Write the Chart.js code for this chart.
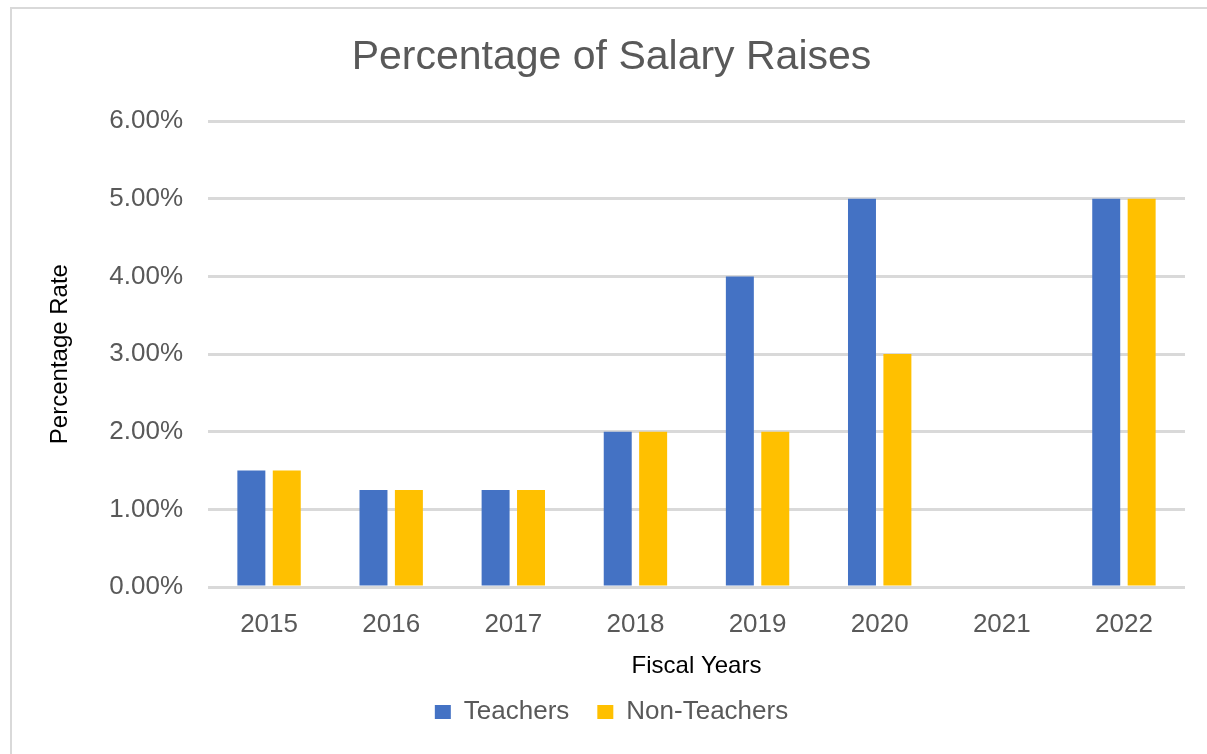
<!DOCTYPE html>
<html>
<head>
<meta charset="utf-8">
<title>Percentage of Salary Raises</title>
<script src="https://cdn.jsdelivr.net/npm/chart.js@4/dist/chart.umd.min.js"></script>
<style>
    html, body {
        margin: 0;
        padding: 0;
        background: #ffffff;
        overflow: hidden;
    }
    .frame {
        position: absolute;
        left: 10px;
        top: 7px;
        right: -200px;
        bottom: -200px;
        border-left: 2px solid #d9d9d9;
        border-top: 2px solid #d9d9d9;
    }
    .chart-wrap {
        position: absolute;
        left: 0;
        top: 0;
        width: 1207px;
        height: 754px;
    }
</style>
</head>
<body>
<div class="frame"></div>
<div class="chart-wrap">
    <canvas id="raisesChart"></canvas>
</div>
<script>
const fiscalYears = ['2015', '2016', '2017', '2018', '2019', '2020', '2021', '2022'];
const teacherRaises = [1.5, 1.25, 1.25, 2, 4, 5, 0, 5];
const nonTeacherRaises = [1.5, 1.25, 1.25, 2, 2, 3, 0, 5];
const yTicks = [0, 1, 2, 3, 4, 5, 6];

document.addEventListener('DOMContentLoaded', function () {
    const canvas = document.getElementById('raisesChart');
    if (typeof Chart === 'undefined') {
        console.warn('Chart.js is not loaded.');
        return;
    }

    const textGray = '#595959';
    const gridGray = '#d9d9d9';
    const sans = "'Liberation Sans', Arial, sans-serif";
    const axisTitleFont = { family: "'Liberation Sans Narrow', 'Liberation Sans', sans-serif", size: 24 };

    new Chart(canvas, {
        type: 'bar',
        data: {
            labels: fiscalYears,
            datasets: [{
                label: 'Teachers',
                data: teacherRaises,
                backgroundColor: '#4472c4',
                borderWidth: 0,
                barPercentage: 0.79,
                categoryPercentage: 0.58
            }, {
                label: 'Non-Teachers',
                data: nonTeacherRaises,
                backgroundColor: '#ffc000',
                borderWidth: 0,
                barPercentage: 0.79,
                categoryPercentage: 0.58
            }]
        },
        options: {
            responsive: true,
            maintainAspectRatio: false,
            animation: false,
            layout: {
                padding: { left: 38, right: 22, top: 8, bottom: 19 }
            },
            scales: {
                x: {
                    grid: { display: false },
                    border: { display: false },
                    ticks: {
                        color: textGray,
                        padding: 14,
                        font: { family: sans, size: 26 }
                    },
                    title: {
                        display: true,
                        text: 'Fiscal Years',
                        color: '#000000',
                        font: axisTitleFont,
                        padding: { top: 0, bottom: -10 }
                    },
                    afterFit: function (scale) {
                        scale.height = 84;
                    }
                },
                y: {
                    min: 0,
                    max: 6,
                    afterBuildTicks: function (scale) {
                        scale.ticks = yTicks.map(function (v) { return { value: v }; });
                    },
                    grid: {
                        color: gridGray,
                        lineWidth: 3,
                        drawTicks: false
                    },
                    border: { display: false },
                    ticks: {
                        color: textGray,
                        padding: 25,
                        font: { family: sans, size: 26 },
                        callback: function (value) {
                            return Number(value).toFixed(2) + '%';
                        }
                    },
                    title: {
                        display: true,
                        text: 'Percentage Rate',
                        color: '#000000',
                        font: axisTitleFont,
                        padding: { top: 8, bottom: 0 }
                    },
                    afterFit: function (scale) {
                        scale.width = 170;
                    }
                }
            },
            plugins: {
                title: {
                    display: true,
                    text: 'Percentage of Salary Raises',
                    color: textGray,
                    font: { family: sans, size: 41, weight: 'normal' },
                    padding: { top: 25, bottom: 39 }
                },
                legend: {
                    position: 'bottom',
                    labels: {
                        color: textGray,
                        boxWidth: 16,
                        boxHeight: 14,
                        padding: 28,
                        font: { family: sans, size: 26 }
                    }
                },
                tooltip: { enabled: false }
            }
        }
    });
});
</script>
</body>
</html>
